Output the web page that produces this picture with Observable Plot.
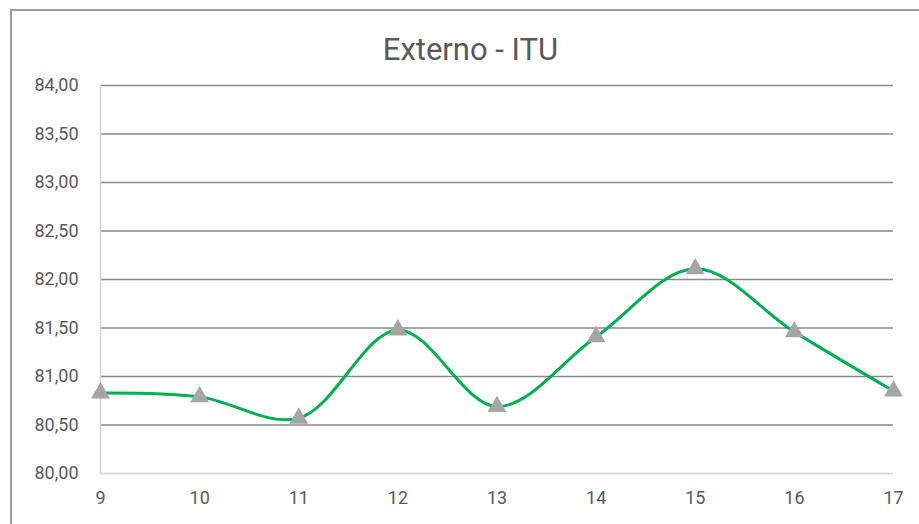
<!DOCTYPE html>
<html>
<head>
<meta charset="utf-8">
<script src="https://cdn.jsdelivr.net/npm/d3@7"></script>
<script src="https://cdn.jsdelivr.net/npm/@observablehq/plot@0.6"></script>
<style>
  html, body { margin: 0; padding: 0; background: #fff; }
  #frame {
    position: absolute; left: 10px; top: 9px; width: 930px; height: 530px;
    border-left: 2px solid #9c9c9c; border-top: 2px solid #9c9c9c;
  }
  #wrap { position: absolute; left: 0; top: 0; width: 919px; }
  #title {
    height: 70px; line-height: 36px; padding-top: 32px;
    text-align: center; font-family: Roboto, sans-serif; font-size: 31px;
    color: #595959; padding-left: 22px; box-sizing: border-box;
  }
  svg text { font-family: Roboto, sans-serif; }
</style>
</head>
<body>
<div id="frame"></div>
<div id="wrap">
  <div id="title">Externo - ITU</div>
  <div id="chart"></div>
</div>
<script>
const hours = [9, 10, 11, 12, 13, 14, 15, 16, 17];
const itu = [80.83, 80.79, 80.57, 81.48, 80.69, 81.41, 82.11, 81.46, 80.85];
const yTicks = [80, 80.5, 81, 81.5, 82, 82.5, 83, 83.5, 84];

const data = hours.map((h, i) => ({hour: h, value: itu[i]}));
const fmt = v => v.toFixed(2).replace(".", ",");

const chart = Plot.plot({
  width: 919,
  height: 454,
  marginTop: 15,
  marginBottom: 51,
  marginLeft: 100,
  marginRight: 26,
  style: {fontFamily: "Roboto, sans-serif", fontSize: "18px", color: "#595959", background: "transparent"},
  x: {domain: [9, 17], ticks: hours, tickFormat: d => String(d), tickSize: 0, tickPadding: 18, label: null},
  y: {domain: [80, 84], ticks: yTicks, tickFormat: fmt, tickSize: 0, tickPadding: 22, label: null},
  marks: [
    Plot.ruleY(yTicks.filter(t => t > 80), {stroke: "#8a8a8a", strokeWidth: 1.3}),
    Plot.ruleY([80], {stroke: "#d4d4d4", strokeWidth: 1.5}),
    Plot.ruleX([9], {y1: 80, y2: 84, stroke: "#d4d4d4", strokeWidth: 1.5}),
    Plot.line(data, {x: "hour", y: "value", curve: "catmull-rom", stroke: "#00b050", strokeWidth: 3}),
    Plot.dot(data, {x: "hour", y: "value", symbol: "triangle", r: 7, fill: "#a5a5a5", stroke: "none"})
  ]
});
document.getElementById("chart").appendChild(chart);
</script>
</body>
</html>
